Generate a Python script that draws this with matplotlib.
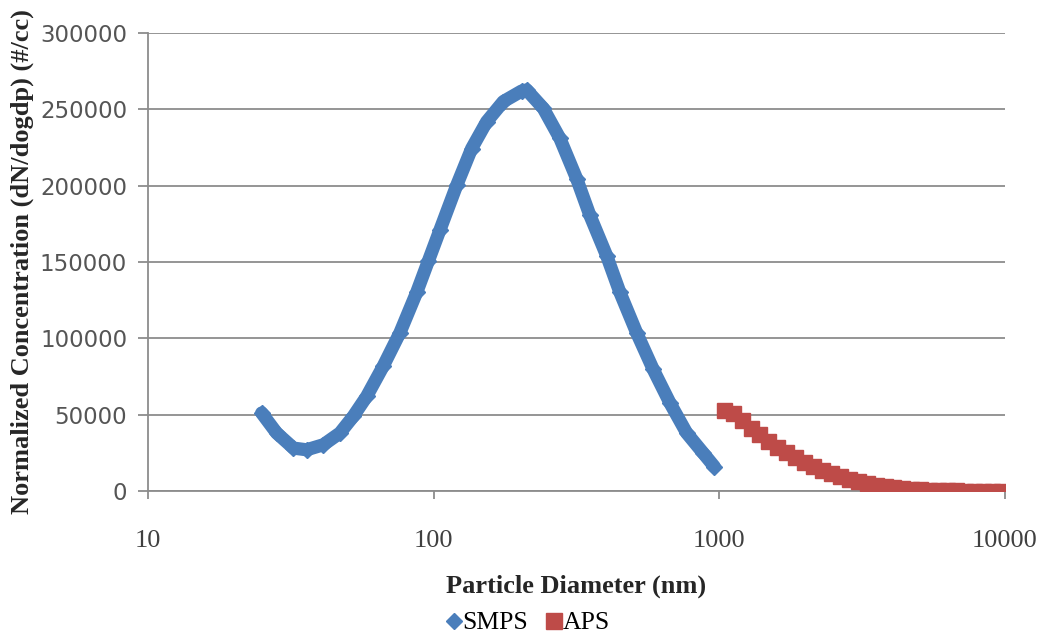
import matplotlib
matplotlib.use("Agg")
import matplotlib.pyplot as plt
from matplotlib.lines import Line2D

# ---- data ----
smps_d = [25.0, 28.2, 32.3, 35.9, 41.1, 47.0, 52.3, 58.3, 66.6, 76.2, 87.2,
          95.7, 105.2, 120.4, 135.8, 153.3, 175.3, 203.2, 211.6, 241.9, 276.7,
          316.6, 352.4, 403.3, 448.7, 513.4, 587.0, 671.5, 768.5, 878.5, 960.0]
smps_n = [51100, 38000, 28100, 27000, 30300, 38000, 48900, 62000, 81800, 103700, 130100,
          150400, 171000, 200200, 224300, 241900, 255100, 262000, 262700, 250700, 230900,
          204600, 180500, 154100, 130100, 103700, 79600, 57700, 38000, 24800, 16000]

aps_d = [1037, 1114, 1197, 1286, 1382, 1486, 1596, 1715, 1843, 1981, 2129, 2288,
         2458, 2642, 2839, 3051, 3278, 3523, 3786, 4068, 4371, 4698, 5048, 5425,
         5829, 6264, 6732, 7234, 7774, 8354, 8977, 9647]
aps_n = [53300, 51300, 46700, 41400, 37500, 32900, 28900, 25700, 22400, 19100, 16400, 13800,
         11800, 9900, 7900, 6600, 5300, 3900, 3300, 2600, 2000, 1500, 1200, 900,
         700, 500, 400, 300, 250, 200, 150, 100]

x_ticks = [10, 100, 1000, 10000]
x_labels = ["10", "100", "1000", "10000"]
y_ticks = [0, 50000, 100000, 150000, 200000, 250000, 300000]
y_labels = ["0", "50000", "100000", "150000", "200000", "250000", "300000"]

blue = "#4A7EBB"
red = "#BE4B48"
grid_c = "#8C8C8C"

fig = plt.figure(figsize=(10.4, 6.36), dpi=100)
ax = fig.add_axes([148/1040, 1-491/636, (1005-148)/1040, (491-33)/636])

ax.plot(smps_d, smps_n, color=blue, lw=9.5, solid_capstyle="round",
        solid_joinstyle="round", zorder=3)
ax.plot(smps_d, smps_n, ls="none", marker="D", ms=8.5, color=blue, mec=blue, zorder=3)
ax.plot(aps_d, aps_n, ls="none", marker="s", ms=10.8, color=red, mec=red, zorder=3)

ax.set_xscale("log")
ax.set_xlim(10, 10000)
ax.set_ylim(0, 300000)
ax.set_xticks(x_ticks)
ax.set_xticklabels(x_labels, family="Liberation Serif", fontsize=19, color="#404040")
ax.xaxis.set_minor_locator(matplotlib.ticker.NullLocator())
ax.set_yticks(y_ticks)
ax.set_yticklabels(y_labels, family="DejaVu Sans", fontsize=16.5, color="#555555")

ax.yaxis.grid(True, color=grid_c, lw=1.3)
ax.set_axisbelow(True)
for s in ["top", "right"]:
    ax.spines[s].set_visible(False)
for s in ["left", "bottom"]:
    ax.spines[s].set_color(grid_c)
    ax.spines[s].set_linewidth(1.3)
ax.tick_params(axis="x", direction="out", length=6, width=1.3, color=grid_c, pad=22)
ax.tick_params(axis="y", direction="out", length=7, width=1.3, color=grid_c, pad=8)

ax.set_xlabel("Particle Diameter (nm)", family="Liberation Serif", fontweight="bold",
              fontsize=19, color="#262626", labelpad=16)
ax.set_ylabel("Normalized Concentration (dN/dogdp) (#/cc)", family="Liberation Serif",
              fontweight="bold", fontsize=19, color="#262626", labelpad=4)

handles = [Line2D([], [], ls="none", marker="D", ms=8.5, color=blue),
           Line2D([], [], ls="none", marker="s", ms=11, color=red)]
fig.legend(handles, ["SMPS", "APS"], loc="center", bbox_to_anchor=(528/1040, 1-623/636),
           ncol=2, frameon=False, handlelength=0.6, handletextpad=0.05, columnspacing=0.7,
           prop={"family": "Liberation Serif", "size": 18.5})

fig.savefig("out.png", dpi=100)
